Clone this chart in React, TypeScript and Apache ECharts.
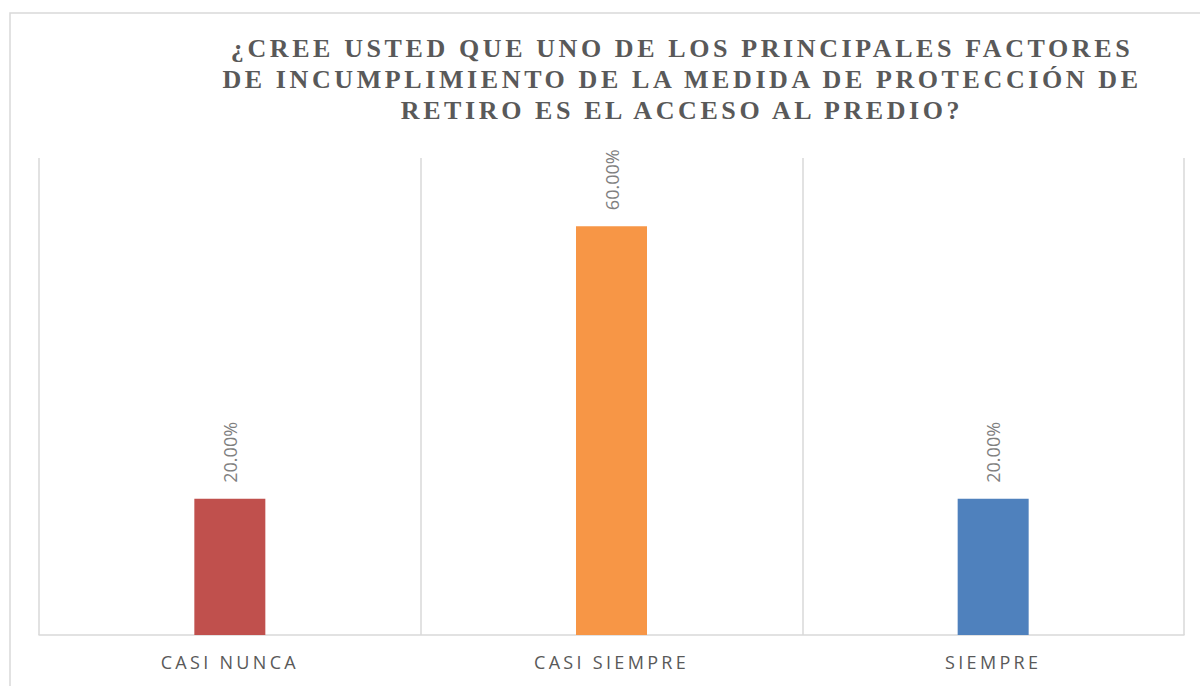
import React, { useEffect, useRef } from "react";
import * as echarts from "echarts";

const titleLines = [
  "¿CREE USTED QUE UNO DE LOS PRINCIPALES FACTORES",
  "DE INCUMPLIMIENTO DE LA MEDIDA DE PROTECCIÓN DE",
  "RETIRO ES EL ACCESO AL PREDIO?",
];
const categories = ["CASI NUNCA", "CASI SIEMPRE", "SIEMPRE"];
const values = [0.2, 0.6, 0.2];
const colors = ["#C0504D", "#F79646", "#4F81BD"];

export default function App() {
  const ref = useRef<HTMLDivElement>(null);
  useEffect(() => {
    if (!ref.current) return;
    const chart = echarts.init(ref.current, null, { renderer: "svg" });
    chart.setOption({
      animation: false,
      backgroundColor: "#ffffff",
      title: {
        text: titleLines.join("\n"),
        left: 677,
        textAlign: "center",
        top: 28,
        textStyle: {
          fontFamily: "Liberation Serif",
          fontWeight: "bold",
          fontSize: 26,
          lineHeight: 31,
          color: "#595959",
        },
      },
      graphic: [
        {
          type: "rect",
          shape: { x: 10, y: 13, width: 1200, height: 700 },
          style: { fill: "none", stroke: "#d9d9d9", lineWidth: 1.5 },
          silent: true,
        },
      ],
      grid: { left: 39, right: 16, top: 158, bottom: 51 },
      xAxis: {
        type: "category",
        data: categories,
        axisLine: { lineStyle: { color: "#d9d9d9", width: 1.5 } },
        axisTick: { show: false },
        splitLine: { show: true, lineStyle: { color: "#d9d9d9", width: 1.5 } },
        axisLabel: {
          color: "#595959",
          fontFamily: "Open Sans",
          fontSize: 18,
          margin: 18,
        },
      },
      yAxis: {
        type: "value",
        min: 0,
        max: 0.7,
        show: false,
        splitLine: { show: false },
      },
      series: [
        {
          type: "bar",
          barWidth: 71,
          data: values.map((v, i) => ({ value: v, itemStyle: { color: colors[i] } })),
          label: {
            show: true,
            position: "top",
            rotate: 90,
            align: "left",
            verticalAlign: "middle",
            distance: 16,
            color: "#7f7f7f",
            fontFamily: "Open Sans",
            fontSize: 18,
            formatter: (p: any) => (p.value * 100).toFixed(2) + "%",
          },
        },
      ],
    });
    const texts = ref.current.querySelectorAll("text");
    texts.forEach((t) => {
      const c = (t.textContent || "").trim();
      if (titleLines.some((l) => c.includes(l))) {
        t.setAttribute("letter-spacing", "3.6");
      } else if (categories.includes(c)) {
        t.setAttribute("letter-spacing", "3.3");
      }
    });
    return () => chart.dispose();
  }, []);
  return (
    <div
      ref={ref}
      style={{ position: "fixed", left: 0, top: 0, width: 1200, height: 686 }}
    />
  );
}
